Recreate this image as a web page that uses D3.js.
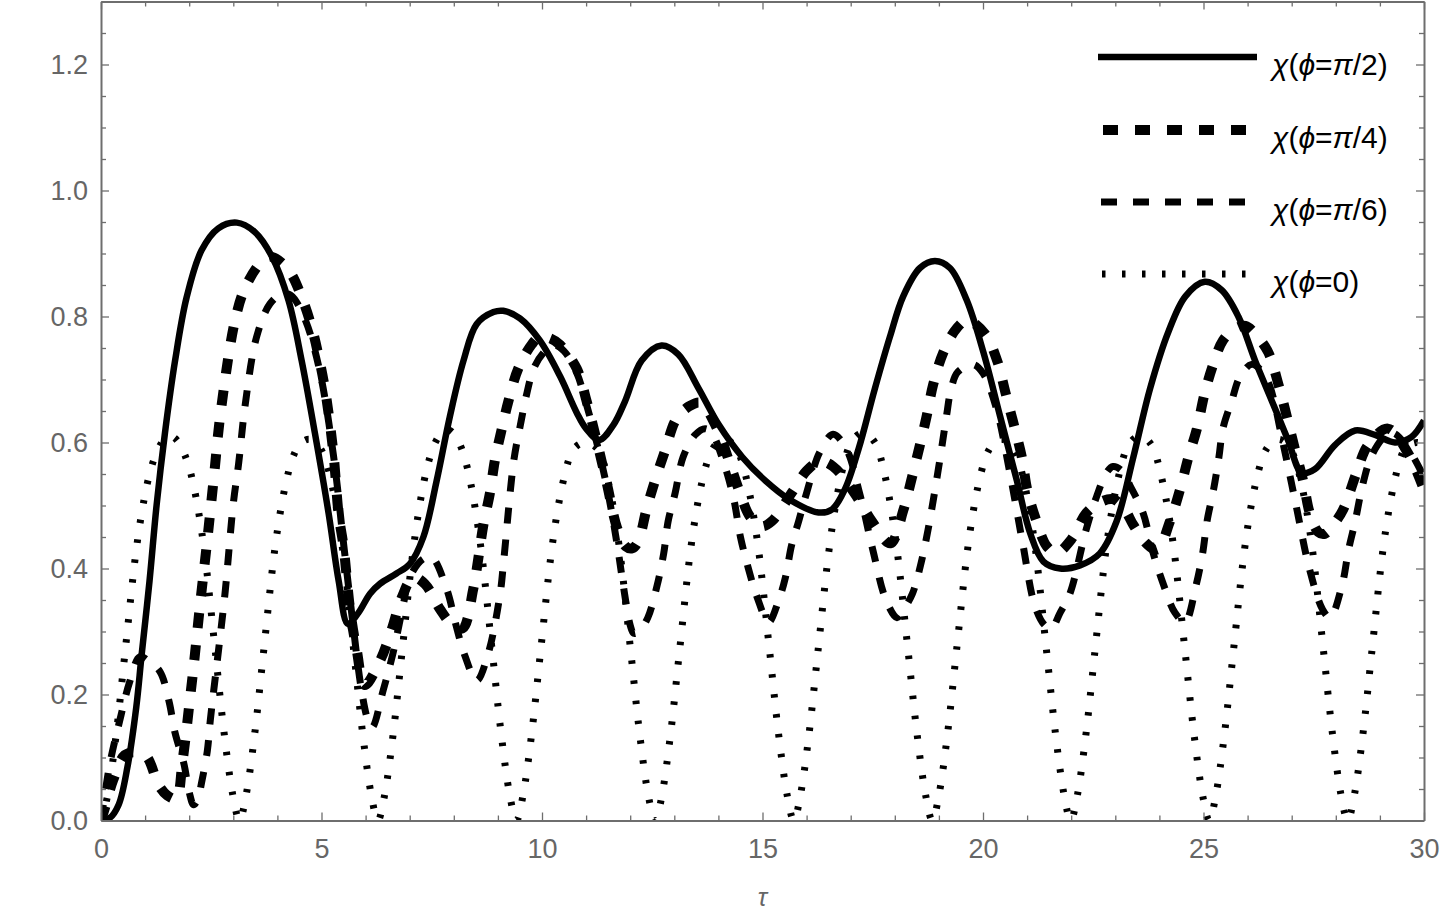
<!DOCTYPE html>
<html><head><meta charset="utf-8">
<script src="https://cdn.jsdelivr.net/npm/d3@7"></script>
<style>html,body{margin:0;padding:0;background:#fff;} svg{display:block;}</style>
</head><body>
<svg id="chart" width="1440" height="913"></svg>
<script>
// ---- data: [tau, chi] ----
const chiPi2 = [[0,0],[0.2,0.004],[0.4,0.025],[0.6,0.085],[0.8,0.18],[0.92,0.262],[1.1,0.38],[1.26,0.5],[1.45,0.615],[1.68,0.73],[1.94,0.83],[2.28,0.905],[2.66,0.94],[3.08,0.949],[3.49,0.934],[3.87,0.896],[4.25,0.826],[4.55,0.73],[4.85,0.615],[5.16,0.488],[5.39,0.38],[5.6,0.312],[5.84,0.33],[6.1,0.36],[6.33,0.376],[6.7,0.392],[7.0,0.407],[7.31,0.45],[7.61,0.539],[7.91,0.641],[8.22,0.73],[8.52,0.788],[8.9,0.807],[9.12,0.809],[9.5,0.797],[9.95,0.762],[10.41,0.705],[10.79,0.647],[11.0,0.622],[11.3,0.604],[11.62,0.628],[11.88,0.665],[12.26,0.73],[12.71,0.754],[13.09,0.74],[13.55,0.686],[14.01,0.628],[14.54,0.577],[15.07,0.539],[15.6,0.51],[16.27,0.489],[16.58,0.494],[16.87,0.526],[17.18,0.59],[17.55,0.686],[17.89,0.768],[18.19,0.832],[18.57,0.877],[18.91,0.888],[19.25,0.877],[19.63,0.826],[20.01,0.743],[20.39,0.641],[20.77,0.539],[21.07,0.456],[21.37,0.411],[21.75,0.4],[22.2,0.405],[22.65,0.424],[23.03,0.475],[23.41,0.577],[23.79,0.686],[24.2,0.775],[24.59,0.832],[25.03,0.855],[25.41,0.842],[25.79,0.8],[26.17,0.73],[26.55,0.666],[26.92,0.603],[27.23,0.552],[27.53,0.558],[27.98,0.596],[28.44,0.619],[28.89,0.612],[29.34,0.6],[29.72,0.609],[30,0.635]];

const chiPi4 = [[0,0],[0.09,0.02],[0.28,0.065],[0.54,0.104],[0.8,0.108],[1.03,0.102],[1.31,0.056],[1.5,0.04],[1.7,0.035],[1.85,0.095],[2.02,0.195],[2.1,0.244],[2.25,0.345],[2.41,0.445],[2.56,0.545],[2.71,0.646],[3.04,0.794],[3.27,0.846],[3.64,0.887],[3.85,0.895],[4.25,0.874],[4.56,0.829],[4.79,0.78],[4.94,0.735],[5.09,0.68],[5.27,0.583],[5.39,0.485],[5.5,0.435],[5.65,0.334],[5.8,0.27],[5.98,0.215],[6.33,0.254],[6.59,0.303],[6.82,0.354],[7.08,0.386],[7.35,0.375],[7.69,0.335],[7.95,0.312],[8.2,0.305],[8.44,0.367],[8.56,0.418],[8.67,0.469],[8.82,0.52],[8.93,0.571],[9.09,0.622],[9.24,0.666],[9.46,0.717],[9.77,0.756],[9.95,0.768],[10.2,0.765],[10.41,0.755],[10.79,0.717],[11.01,0.666],[11.24,0.603],[11.47,0.535],[11.7,0.465],[11.9,0.435],[12.05,0.432],[12.18,0.443],[12.37,0.494],[12.56,0.539],[12.79,0.587],[13.05,0.638],[13.35,0.658],[13.6,0.663],[13.97,0.622],[14.24,0.571],[14.46,0.526],[14.72,0.482],[14.98,0.467],[15.21,0.475],[15.66,0.52],[16.0,0.555],[16.3,0.57],[16.6,0.562],[17.1,0.518],[17.48,0.475],[17.9,0.44],[18.2,0.494],[18.39,0.545],[18.57,0.596],[18.72,0.641],[18.87,0.692],[19.1,0.743],[19.4,0.781],[19.65,0.794],[20.05,0.772],[20.32,0.73],[20.51,0.679],[20.7,0.628],[20.88,0.577],[21.0,0.526],[21.18,0.482],[21.45,0.435],[21.67,0.425],[22.0,0.446],[22.34,0.488],[22.65,0.505],[22.95,0.51],[23.2,0.495],[23.41,0.469],[23.7,0.44],[23.95,0.43],[24.24,0.475],[24.47,0.526],[24.66,0.577],[24.85,0.622],[25.03,0.679],[25.22,0.724],[25.44,0.762],[25.7,0.78],[25.95,0.785],[26.2,0.77],[26.47,0.743],[26.7,0.692],[26.89,0.641],[27.07,0.59],[27.26,0.539],[27.41,0.488],[27.6,0.458],[27.75,0.455],[27.95,0.47],[28.17,0.494],[28.47,0.552],[28.73,0.596],[29.18,0.622],[29.63,0.584],[30,0.525]];

const chiPi6 = [[0,0],[0.2,0.09],[0.43,0.16],[0.65,0.22],[0.88,0.26],[1.1,0.252],[1.34,0.236],[1.54,0.19],[1.68,0.139],[1.88,0.09],[2.0,0.045],[2.1,0.025],[2.2,0.035],[2.28,0.06],[2.41,0.11],[2.48,0.16],[2.71,0.297],[2.82,0.366],[3.0,0.503],[3.12,0.566],[3.27,0.66],[3.53,0.768],[3.83,0.82],[4.1,0.836],[4.3,0.834],[4.6,0.8],[4.94,0.72],[5.27,0.58],[5.5,0.44],[5.7,0.32],[5.9,0.21],[6.05,0.16],[6.15,0.148],[6.4,0.207],[6.62,0.265],[6.85,0.341],[7.0,0.386],[7.3,0.415],[7.5,0.418],[7.84,0.367],[8.05,0.31],[8.25,0.262],[8.52,0.222],[8.78,0.265],[9.05,0.36],[9.13,0.411],[9.36,0.571],[9.51,0.628],[9.66,0.679],[9.81,0.717],[10.04,0.743],[10.26,0.755],[10.5,0.745],[10.79,0.71],[11.01,0.66],[11.24,0.6],[11.47,0.53],[11.7,0.44],[11.85,0.37],[12.0,0.31],[12.08,0.297],[12.2,0.3],[12.4,0.322],[12.61,0.373],[12.76,0.424],[12.86,0.475],[13.02,0.52],[13.2,0.577],[13.47,0.612],[13.7,0.622],[13.85,0.615],[14.08,0.577],[14.34,0.513],[14.5,0.45],[14.68,0.4],[14.88,0.354],[15.14,0.315],[15.36,0.348],[15.52,0.386],[15.66,0.437],[15.82,0.475],[16.0,0.52],[16.3,0.585],[16.6,0.613],[16.9,0.59],[17.2,0.52],[17.5,0.43],[17.8,0.35],[18.05,0.322],[18.2,0.335],[18.4,0.36],[18.6,0.41],[18.75,0.46],[18.9,0.52],[19.06,0.59],[19.17,0.641],[19.28,0.686],[19.43,0.712],[19.77,0.724],[20.0,0.71],[20.3,0.655],[20.6,0.555],[20.9,0.44],[21.18,0.34],[21.4,0.31],[21.55,0.305],[21.75,0.33],[21.97,0.36],[22.34,0.462],[22.57,0.513],[22.8,0.552],[22.95,0.562],[23.15,0.555],[23.33,0.532],[23.63,0.488],[23.86,0.424],[24.1,0.373],[24.35,0.33],[24.58,0.315],[24.83,0.373],[24.98,0.424],[25.08,0.475],[25.23,0.526],[25.35,0.577],[25.44,0.622],[25.64,0.666],[25.83,0.705],[26.09,0.724],[26.3,0.715],[26.5,0.69],[26.8,0.6],[27.1,0.5],[27.4,0.4],[27.7,0.335],[27.87,0.322],[28.14,0.373],[28.29,0.43],[28.44,0.475],[28.6,0.53],[28.8,0.577],[29.1,0.609],[29.3,0.615],[29.6,0.595],[30,0.545]];

const chiPhi0 = [[0,0],[0.15,0.04],[0.35,0.14],[0.55,0.27],[0.8,0.43],[1.05,0.535],[1.3,0.59],[1.57,0.61],[1.84,0.59],[2.09,0.535],[2.34,0.43],[2.59,0.27],[2.79,0.14],[2.99,0.04],
[3.14,0],[3.29,0.04],[3.49,0.14],[3.69,0.27],[3.94,0.43],[4.19,0.535],[4.44,0.59],[4.71,0.605],[4.98,0.59],[5.23,0.535],[5.48,0.43],[5.73,0.27],[5.93,0.14],[6.13,0.04],
[6.28,0],[6.43,0.04],[6.63,0.14],[6.83,0.27],[7.08,0.43],[7.33,0.54],[7.58,0.6],[7.85,0.62],[8.12,0.6],[8.37,0.54],[8.62,0.43],[8.87,0.27],[9.07,0.14],[9.27,0.04],
[9.42,0],[9.57,0.04],[9.77,0.14],[9.97,0.27],[10.22,0.43],[10.47,0.535],[10.72,0.59],[10.99,0.6],[11.26,0.59],[11.51,0.535],[11.76,0.43],[12.01,0.27],[12.21,0.14],[12.41,0.04],
[12.57,0],[12.72,0.04],[12.92,0.14],[13.12,0.27],[13.37,0.43],[13.62,0.535],[13.87,0.59],[14.14,0.605],[14.41,0.59],[14.66,0.535],[14.91,0.43],[15.16,0.27],[15.36,0.14],[15.56,0.04],
[15.71,0],[15.86,0.04],[16.06,0.14],[16.26,0.27],[16.51,0.43],[16.76,0.54],[17.01,0.6],[17.28,0.615],[17.55,0.6],[17.8,0.54],[18.05,0.43],[18.3,0.27],[18.5,0.14],[18.7,0.04],
[18.85,0],[19.0,0.04],[19.2,0.14],[19.4,0.27],[19.65,0.43],[19.9,0.535],[20.15,0.59],[20.42,0.605],[20.69,0.59],[20.94,0.535],[21.19,0.43],[21.44,0.27],[21.64,0.14],[21.84,0.04],
[21.99,0],[22.14,0.04],[22.34,0.14],[22.54,0.27],[22.79,0.43],[23.04,0.535],[23.29,0.595],[23.56,0.61],[23.83,0.595],[24.08,0.535],[24.33,0.43],[24.58,0.27],[24.78,0.14],[24.98,0.04],
[25.13,0],[25.28,0.04],[25.48,0.14],[25.68,0.27],[25.93,0.43],[26.18,0.535],[26.43,0.59],[26.7,0.605],[26.97,0.59],[27.22,0.535],[27.47,0.43],[27.72,0.27],[27.92,0.14],[28.12,0.04],
[28.27,0],[28.42,0.04],[28.62,0.14],[28.82,0.27],[29.07,0.43],[29.32,0.535],[29.57,0.59],[29.84,0.6],[30,0.595]];

const legendLabels = ["π/2", "π/4", "π/6", "0"];
const xMajorTicks = [0, 5, 10, 15, 20, 25, 30];
const yMajorTicks = [0, 0.2, 0.4, 0.6, 0.8, 1.0, 1.2];
const xTitle = "τ";

// ---- drawing ----
const smooth = d3.curveCatmullRom.alpha(0.5);
const series = [
  {data: chiPi2, label: legendLabels[0], width: 6.5, dash: null, legLen: 159, legX: 1098, curve: smooth},
  {data: chiPi4, label: legendLabels[1], width: 10, dash: "15,17", legLen: 144, legX: 1103, curve: smooth},
  {data: chiPi6, label: legendLabels[2], width: 7, dash: "16,16", legLen: 144, legX: 1101, curve: smooth},
  {data: chiPhi0, label: legendLabels[3], width: 7, dash: "3.5,16.5", legLen: 144, legX: 1102, curve: d3.curveMonotoneX}
];

const L = 101, R = 1424, T = 1.5, B = 820.5;
const x = d3.scaleLinear().domain([0, 30]).range([L, R]);
const y = d3.scaleLinear().domain([0, 1.3]).range([B, T]);
const svg = d3.select("#chart");
const axisColor = "#6e6e6e";
const textColor = "#666666";
const font = "'Liberation Sans', Arial, Helvetica, sans-serif";

svg.append("defs").append("clipPath").attr("id", "clip")
  .append("rect").attr("x", L).attr("y", T).attr("width", R - L).attr("height", B - T);

const plot = svg.append("g").attr("clip-path", "url(#clip)");
series.forEach(s => {
  const line = d3.line().x(d => x(d[0])).y(d => y(d[1])).curve(s.curve);
  plot.append("path").datum(s.data)
    .attr("d", line)
    .attr("fill", "none")
    .attr("stroke", "#000")
    .attr("stroke-width", s.width)
    .attr("stroke-linejoin", "round")
    .attr("stroke-dasharray", s.dash);
});

// axes / frame
const xMinor = d3.range(0, 31, 1).filter(v => v % 5 !== 0);
const yMinor = d3.range(0, 27).map(i => +(i * 0.05).toFixed(2)).filter(v => Math.round(v * 100) % 20 !== 0);

function styleAxis(g) {
  g.selectAll("line").attr("stroke", axisColor).attr("stroke-width", 1.3);
  g.selectAll("path").attr("stroke", axisColor).attr("stroke-width", 2);
  g.selectAll("text").attr("fill", textColor).attr("font-family", font).attr("font-size", 27);
}

// bottom
svg.append("g").attr("transform", `translate(0,${B})`)
  .call(d3.axisBottom(x).tickValues(xMajorTicks).tickSize(-8).tickSizeOuter(0).tickPadding(18).tickFormat(d3.format("d")))
  .call(styleAxis);
svg.append("g").attr("transform", `translate(0,${B})`)
  .call(d3.axisBottom(x).tickValues(xMinor).tickSize(-5).tickSizeOuter(0).tickFormat(""))
  .call(styleAxis).call(g => g.select(".domain").remove());
// top
svg.append("g").attr("transform", `translate(0,${T})`)
  .call(d3.axisTop(x).tickValues(xMajorTicks).tickSize(-8).tickSizeOuter(0).tickFormat(""))
  .call(styleAxis);
svg.append("g").attr("transform", `translate(0,${T})`)
  .call(d3.axisTop(x).tickValues(xMinor).tickSize(-5).tickSizeOuter(0).tickFormat(""))
  .call(styleAxis).call(g => g.select(".domain").remove());
// left
svg.append("g").attr("transform", `translate(${L},0)`)
  .call(d3.axisLeft(y).tickValues(yMajorTicks).tickSize(-8).tickSizeOuter(0).tickPadding(13).tickFormat(d3.format(".1f")))
  .call(styleAxis);
svg.append("g").attr("transform", `translate(${L},0)`)
  .call(d3.axisLeft(y).tickValues(yMinor).tickSize(-5).tickSizeOuter(0).tickFormat(""))
  .call(styleAxis).call(g => g.select(".domain").remove());
// right
svg.append("g").attr("transform", `translate(${R},0)`)
  .call(d3.axisRight(y).tickValues(yMajorTicks).tickSize(-8).tickSizeOuter(0).tickFormat(""))
  .call(styleAxis);
svg.append("g").attr("transform", `translate(${R},0)`)
  .call(d3.axisRight(y).tickValues(yMinor).tickSize(-5).tickSizeOuter(0).tickFormat(""))
  .call(styleAxis).call(g => g.select(".domain").remove());

// axis title
svg.append("text").attr("x", (L + R) / 2).attr("y", 906)
  .attr("text-anchor", "middle").attr("font-family", font).attr("font-size", 25)
  .attr("font-style", "italic").attr("fill", textColor).text(xTitle);

// legend
const legYs = [57, 130, 202, 274];
series.forEach((s, i) => {
  const ly = legYs[i];
  svg.append("line").attr("x1", s.legX).attr("x2", s.legX + s.legLen)
    .attr("y1", ly).attr("y2", ly)
    .attr("stroke", "#000").attr("stroke-width", s.width)
    .attr("stroke-dasharray", s.dash);
  const t = svg.append("text").attr("x", 1272).attr("y", ly + 18)
    .attr("font-family", font).attr("font-size", 30).attr("fill", "#000");
  t.append("tspan").attr("font-style", "italic").text("χ");
  t.append("tspan").text("(");
  t.append("tspan").attr("font-style", "italic").text("ϕ");
  t.append("tspan").text("=");
  if (s.label.startsWith("π")) {
    t.append("tspan").attr("font-style", "italic").text("π");
    t.append("tspan").text(s.label.slice(1) + ")");
  } else {
    t.append("tspan").text(s.label + ")");
  }
});
</script>
</body></html>
